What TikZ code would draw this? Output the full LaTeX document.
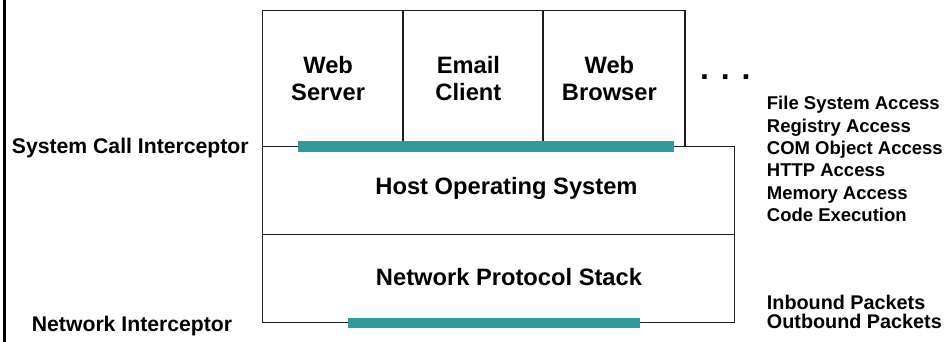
\documentclass[tikz,border=0pt]{standalone}
\usepackage{fontspec}
\setmainfont{Liberation Sans}
\definecolor{tealbar}{RGB}{51,153,153}
\definecolor{edge}{RGB}{30,30,30}
\begin{document}
\begin{tikzpicture}[x=1pt,y=-1pt,
  appbox/.style={draw=edge,line width=1.2pt,minimum height=136pt,inner sep=0pt,anchor=north west},
  layerbox/.style={draw=edge,line width=1.2pt,minimum width=472.3pt,minimum height=88pt,inner sep=0pt,anchor=north west},
  bigtext/.style={font=\bfseries\fontsize{23.7}{27}\selectfont,align=center,inner sep=0pt},
  sidetext/.style={font=\bfseries\fontsize{21.2}{24}\selectfont,inner sep=0pt,anchor=base west},
  listtext/.style={font=\bfseries\fontsize{18.5}{22}\selectfont,inner sep=0pt,anchor=base west},
  pkttext/.style={font=\bfseries\fontsize{19.8}{22}\selectfont,inner sep=0pt,anchor=base west},
  hook/.style={fill=tealbar,draw=none,inner sep=0pt,anchor=north west}]
\useasboundingbox (0,0) rectangle (947,342);

% left margin rule
\fill[black] (2.8,0) rectangle (5.6,342);

% application boxes
\node[appbox,minimum width=140.6pt] (web) at (261.7,10) {};
\node[appbox,minimum width=140pt] (mail) at (402.3,10) {};
\node[appbox,minimum width=142pt] (browser) at (542.3,10) {};
\node[bigtext] (webt) at ([xshift=-4.5pt]web.center) {Web\\Server};
\node[bigtext] (mailt) at ([xshift=-4.5pt]mail.center) {Email\\Client};
\node[bigtext] (browsert) at ([xshift=-4.5pt]browser.center) {Web\\Browser};
\node[font=\bfseries\fontsize{32}{34}\selectfont,inner sep=0pt,anchor=base west] (more) at (700,79.7) {. . .};

% operating system layers
\node[layerbox] (host) at (261.7,146) {};
\node[layerbox] (net) at (261.7,234) {};
\node[bigtext] (hostt) at (506.5,188) {Host Operating System};
\node[bigtext] (nett) at (509,276.7) {Network Protocol Stack};

% interception points
\node[hook,minimum width=376.7pt,minimum height=11pt] (sysbar) at (297.3,141) {};
\node[hook,minimum width=292.3pt,minimum height=10pt] (netbar) at (347.7,317.7) {};

% labels
\node[sidetext] (syscall) at (11.7,153.3) {System Call Interceptor};
\node[sidetext] (netint) at (31.7,331.7) {Network Interceptor};

\foreach \t [count=\i] in {File System Access,Registry Access,COM Object Access,HTTP Access,Memory Access,Code Execution}
  \node[listtext] (acc\i) at (766.7,{110+22.3*(\i-1)}) {\t};

\node[pkttext] (inpk) at (766.7,309.3) {Inbound Packets};
\node[pkttext] (outpk) at (766.7,328.3) {Outbound Packets};
\end{tikzpicture}
\end{document}
